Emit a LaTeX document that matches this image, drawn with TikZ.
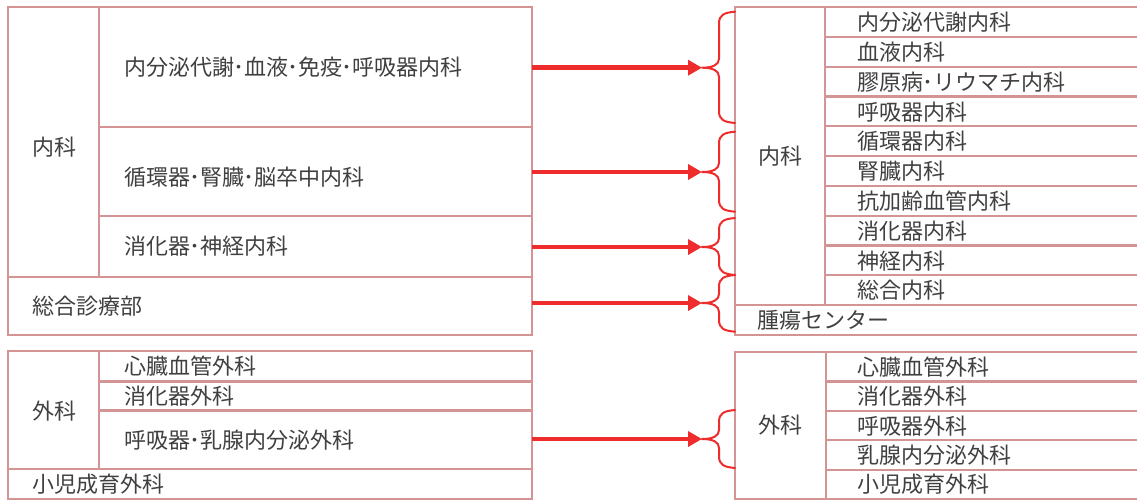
\documentclass[tikz,border=0pt]{standalone}
\usepackage{fontspec}
\newfontfamily\jp{Noto Sans CJK JP}
\usetikzlibrary{arrows.meta}
\definecolor{cellborder}{HTML}{D49494}
\definecolor{arrowred}{HTML}{EE2C2C}
\definecolor{txt}{HTML}{404040}
\newcommand\mkcell[5]{\node[cell, minimum width={(#4-#2)*1pt}, minimum height={(#5-#3)*1pt}, anchor=north west] (#1) at (#2,#3) {};}
\newcommand\drawbrace[4]{%
  \coordinate (#4) at (702,#2);
  \draw[brc] (735,#1) .. controls (724,#1+1) and (719,#1+3) .. (719,#1+12) -- (719,#2-9)
    .. controls (719,#2-3) and (713,#2) .. (#4)
    .. controls (713,#2) and (719,#2+3) .. (719,#2+9) -- (719,#3-12)
    .. controls (719,#3-3) and (724,#3-1) .. (735,#3);}
\newcommand\dt{\kern-0.5pt･\kern-0.5pt}
\begin{document}
\begin{tikzpicture}[x=1pt,y=-1pt,
  cell/.style={draw=cellborder, line width=2.2pt, rectangle, inner sep=0pt, outer sep=0pt},
  lbl/.style={font=\jp\fontsize{22}{25}\selectfont, text=txt, inner sep=0pt, anchor=west},
  clbl/.style={lbl, anchor=center},
  conn/.style={draw=arrowred, line width=4.5pt, -{Triangle[length=14pt,width=15pt]}},
  brc/.style={draw=arrowred, line width=2pt, line cap=round, line join=round}]
\useasboundingbox (0,0) rectangle (1137,501);
\fill[white] (0,0) rectangle (1137,501);
% ---- top left
\mkcell{LN}{8}{7}{99}{277}
\mkcell{L1}{99}{7}{532}{127}
\mkcell{L2}{99}{127}{532}{216}
\mkcell{L3}{99}{216}{532}{277}
\mkcell{L4}{8}{277}{532}{335}
\node[lbl] (tLN) at (32,147) {内科};
\node[lbl] (tL1) at (124,67) {内分泌代謝\dt 血液\dt 免疫\dt 呼吸器内科};
\node[lbl] (tL2) at (124,177) {循環器\dt 腎臓\dt 脳卒中内科};
\node[lbl] (tL3) at (124,246) {消化器\dt 神経内科};
\node[lbl] (tL4) at (32,306) {総合診療部};
% ---- top right
\mkcell{RN}{735}{7}{825}{305}
\mkcell{R1}{825}{7}{1145}{36.8}
\mkcell{R2}{825}{36.8}{1145}{66.6}
\mkcell{R3}{825}{66.6}{1145}{96.4}
\mkcell{R4}{825}{96.4}{1145}{126.2}
\mkcell{R5}{825}{126.2}{1145}{156}
\mkcell{R6}{825}{156}{1145}{185.8}
\mkcell{R7}{825}{185.8}{1145}{215.6}
\mkcell{R8}{825}{215.6}{1145}{245.4}
\mkcell{R9}{825}{245.4}{1145}{275.2}
\mkcell{R10}{825}{275.2}{1145}{305}
\mkcell{RT}{735}{305}{1145}{335}
\node[clbl] (tRN) at (780,156) {内科};
\node[lbl] (tR1) at (857,22.4) {内分泌代謝内科};
\node[lbl] (tR2) at (857,52.2) {血液内科};
\node[lbl] (tR3) at (857,82) {膠原病\dt リウマチ内科};
\node[lbl] (tR4) at (857,111.8) {呼吸器内科};
\node[lbl] (tR5) at (857,141.6) {循環器内科};
\node[lbl] (tR6) at (857,171.4) {腎臓内科};
\node[lbl] (tR7) at (857,201.2) {抗加齢血管内科};
\node[lbl] (tR8) at (857,231) {消化器内科};
\node[lbl] (tR9) at (857,260.8) {神経内科};
\node[lbl] (tR10) at (857,290.6) {総合内科};
\node[lbl] (tRT) at (757,320) {腫瘍センター};
% ---- bottom left
\mkcell{SN}{8}{351}{99}{469}
\mkcell{S1}{99}{351}{532}{381.5}
\mkcell{S2}{99}{381.5}{532}{410.5}
\mkcell{S3}{99}{410.5}{532}{469}
\mkcell{S4}{8}{469}{532}{499}
\node[lbl] (tSN) at (32,411) {外科};
\node[lbl] (tS1) at (124,366.5) {心臓血管外科};
\node[lbl] (tS2) at (124,396) {消化器外科};
\node[lbl] (tS3) at (124,440) {呼吸器\dt 乳腺内分泌外科};
\node[lbl] (tS4) at (32,484.5) {小児成育外科};
% ---- bottom right
\mkcell{TN}{735}{352}{826}{499}
\mkcell{T1}{826}{352}{1145}{381.4}
\mkcell{T2}{826}{381.4}{1145}{410.8}
\mkcell{T3}{826}{410.8}{1145}{440.2}
\mkcell{T4}{826}{440.2}{1145}{469.6}
\mkcell{T5}{826}{469.6}{1145}{499}
\node[clbl] (tTN) at (780,425) {外科};
\node[lbl] (tT1) at (857,367) {心臓血管外科};
\node[lbl] (tT2) at (857,396.4) {消化器外科};
\node[lbl] (tT3) at (857,425.8) {呼吸器外科};
\node[lbl] (tT4) at (857,455.2) {乳腺内分泌外科};
\node[lbl] (tT5) at (857,484.6) {小児成育外科};
% ---- braces
\drawbrace{11.7}{67.7}{123}{b1}
\drawbrace{131.7}{172}{211.7}{b2}
\drawbrace{218}{247}{275}{b3}
\drawbrace{275}{303}{331.7}{b4}
\drawbrace{410}{439}{468}{b5}
% ---- arrows
\draw[conn] (b1 -| L1.east) -- (b1);
\draw[conn] (b2 -| L2.east) -- (b2);
\draw[conn] (b3 -| L3.east) -- (b3);
\draw[conn] (b4 -| L4.east) -- (b4);
\draw[conn] (b5 -| S3.east) -- (b5);
\end{tikzpicture}
\end{document}
